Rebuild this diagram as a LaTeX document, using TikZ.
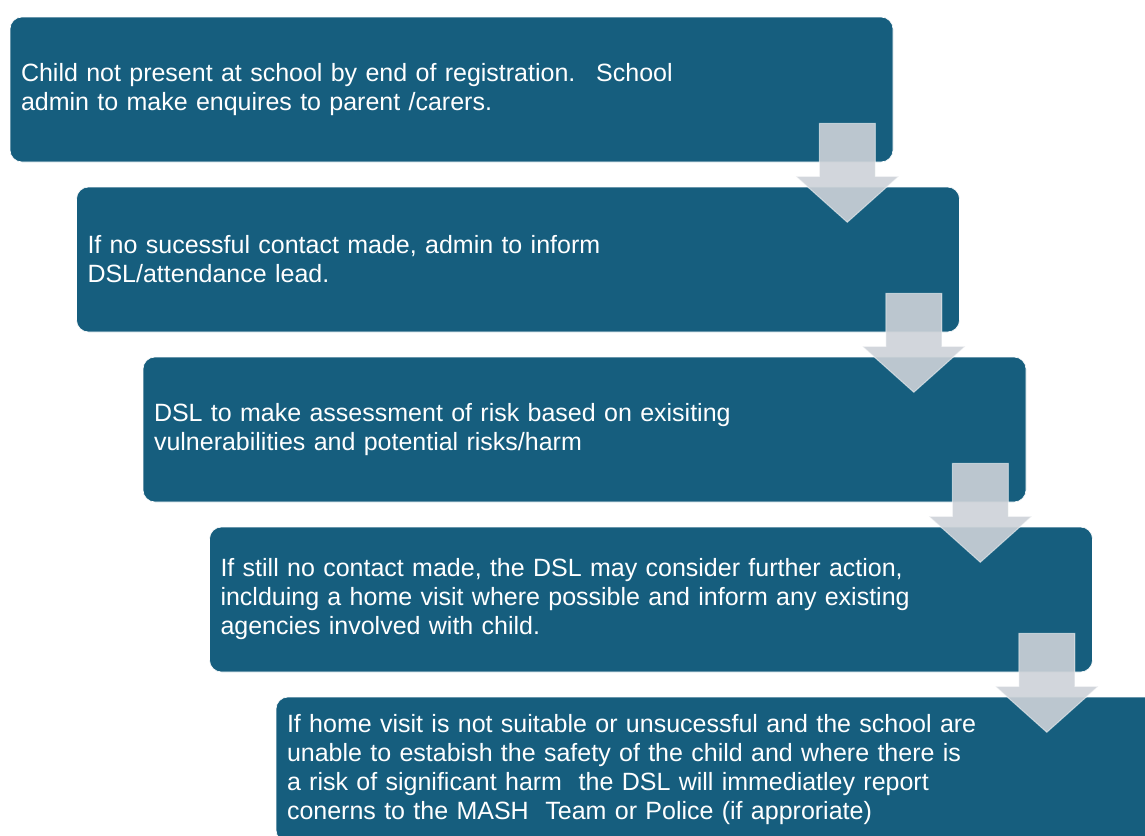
\documentclass[tikz,border=0pt]{standalone}
\usepackage{fontspec}
\setmainfont{Liberation Sans}
\definecolor{boxblue}{RGB}{22,94,126}
\definecolor{arrowgrey}{RGB}{205,210,216}
\tikzset{
  stepbox/.style={rectangle, rounded corners=12pt, fill=boxblue, draw=white, line width=0.6pt,
    minimum width=883pt, minimum height=145pt, inner sep=0pt, text width=861pt,
    align=left, text=white, font=\fontsize{25}{29}\selectfont},
  downarrow/.style={fill=arrowgrey, fill opacity=0.9, draw=white, draw opacity=0.5, line width=1pt}
}
\begin{document}
\begin{tikzpicture}[x=1pt, y=1pt]
\clip (0,0) rectangle (1145,-835);
\node [stepbox] (box1) at (451.5,-89.5) {Child not present at school by end of registration.~ School\\admin to make enquires to parent /carers.};
\node [stepbox] (box2) at (518,-259.5) {If no sucessful contact made, admin to inform\\DSL/attendance lead.};
\node [stepbox] (box3) at (584.5,-429.5) {DSL to make assessment of risk based on exisiting\\vulnerabilities and potential risks/harm};
\node [stepbox] (box4) at (651,-599.5) {If still no contact made, the DSL may consider further action,\\inclduing a home visit where possible and inform any existing\\agencies involved with child.};
\node [stepbox] (box5) at (717.5,-769.5) {If home visit is not suitable or unsucessful and the school are\\unable to estabish the safety of the child and where there is\\a risk of significant harm~ the DSL will immediatley report\\conerns to the MASH~ Team or Police (if approriate)};
% arrows between the steps
\foreach \i in {1,...,4}
  \draw [downarrow, shift={(box\i.south east)}] (-74,39) -- (-18,39) -- (-18,-14) -- (5.5,-14)
    -- (-46,-60) -- (-97.5,-14) -- (-74,-14) -- cycle;
\end{tikzpicture}
\end{document}
